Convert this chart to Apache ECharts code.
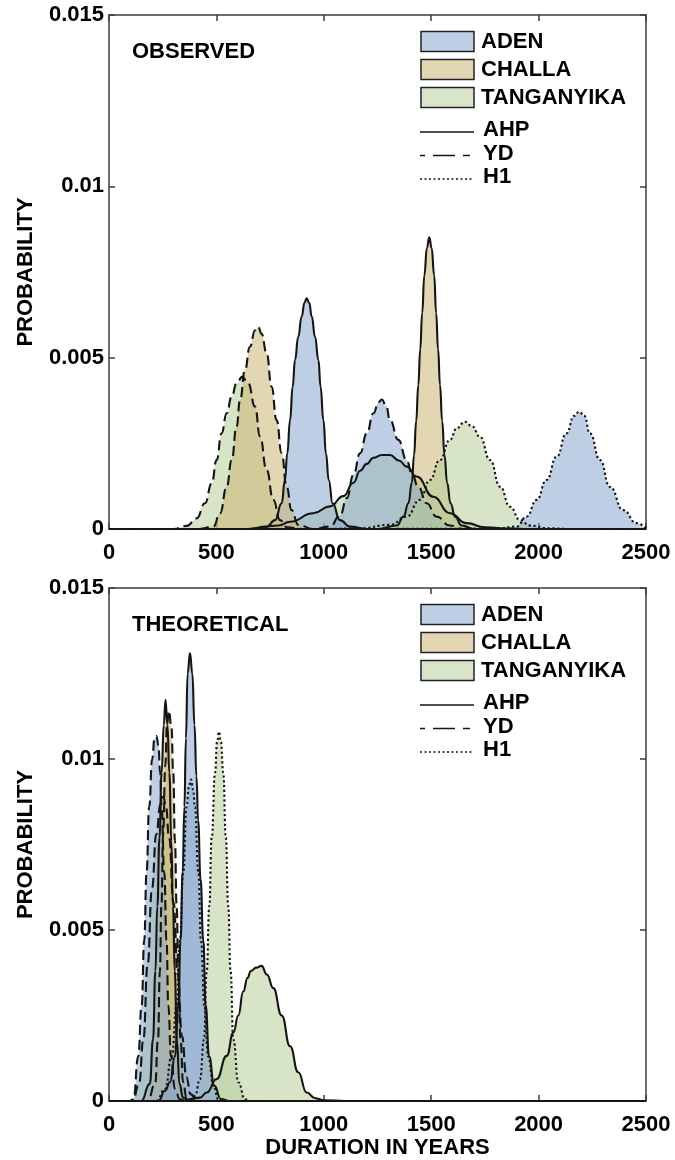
<!DOCTYPE html>
<html lang="en">
<head>
<meta charset="UTF-8">
<title>Duration probability</title>
<style>html,body{margin:0;padding:0;background:#fff}</style>
</head>
<body>
<div id="main" style="width:675px;height:1160px;"></div>
<script src="https://cdn.jsdelivr.net/npm/echarts@6/dist/echarts.min.js"></script>
<script>
var xTicks = [0, 500, 1000, 1500, 2000, 2500];
var yTicks = [0, 0.005, 0.01, 0.015];

var lakes = ['ADEN', 'CHALLA', 'TANGANYIKA'];
var events = ['AHP', 'YD', 'H1'];
var panelTitles = ['OBSERVED', 'THEORETICAL'];

// observed: [duration in years, probability]
var obsTangAHP = [[0,0],[650,0],[789,0.0001],[843,0.00021],[951,0.00046],[1029,0.00066],[1091,0.00096],[1138,0.00135],[1169,0.0017],[1200,0.0019],[1231,0.00208],[1270,0.00216],[1308,0.00216],[1350,0.002],[1386,0.00182],[1432,0.00153],[1510,0.00094],[1587,0.00046],[1665,0.00017],[1750,0.00005],[1869,0.00001],[1950,0],[2500,0]];
var obsChallaAHP = [[0,0],[1250,0],[1340,0.0001],[1371,0.00036],[1394,0.00075],[1410,0.00135],[1420,0.00215],[1430,0.00315],[1440,0.0042],[1449,0.00525],[1458,0.0063],[1468,0.0074],[1480,0.0082],[1491,0.00851],[1502,0.0082],[1514,0.0074],[1523,0.0063],[1532,0.00525],[1541,0.0042],[1551,0.00315],[1562,0.00215],[1574,0.00135],[1590,0.00075],[1611,0.00036],[1642,0.0001],[1700,0],[2500,0]];
var obsAdenAHP = [[0,0],[650,0],[734,0.00007],[773,0.00026],[804,0.00075],[819,0.00143],[830,0.00221],[843,0.00318],[855,0.00415],[866,0.00493],[881,0.00561],[897,0.0062],[910,0.0066],[920,0.00673],[932,0.0066],[944,0.0062],[959,0.00561],[975,0.00493],[985,0.00415],[998,0.00318],[1010,0.00221],[1023,0.00143],[1041,0.00075],[1075,0.00026],[1122,0.00007],[1200,0],[2500,0]];
var obsTangYD = [[0,0],[300,0],[362,0.00009],[408,0.00031],[447,0.00075],[478,0.00133],[501,0.00201],[524,0.00279],[548,0.00338],[571,0.00386],[594,0.00425],[620,0.00444],[648,0.00425],[680,0.00357],[703,0.0027],[734,0.00172],[765,0.00085],[796,0.00026],[827,0.00005],[900,0],[2500,0]];
var obsChallaYD = [[0,0],[420,0],[486,0.00007],[517,0.00046],[548,0.00123],[571,0.00201],[594,0.00299],[610,0.00376],[633,0.00464],[656,0.00532],[680,0.0058],[695,0.0059],[710,0.0057],[734,0.00513],[757,0.00415],[780,0.00318],[804,0.00221],[827,0.00123],[850,0.00055],[881,0.00012],[950,0],[2500,0]];
var obsAdenYD = [[0,0],[950,0],[1029,0.00007],[1076,0.0004],[1107,0.0009],[1138,0.00158],[1169,0.00221],[1200,0.00279],[1231,0.00338],[1255,0.0037],[1270,0.00378],[1290,0.0036],[1308,0.00318],[1347,0.0026],[1386,0.00201],[1409,0.00163],[1440,0.00123],[1479,0.00075],[1525,0.00036],[1587,0.0001],[1650,0],[2500,0]];
var obsTangH1 = [[0,0],[1000,0],[1169,0.00002],[1308,0.00012],[1386,0.00036],[1447,0.00085],[1494,0.00143],[1540,0.00201],[1587,0.0026],[1620,0.00295],[1657,0.00313],[1690,0.003],[1727,0.00269],[1774,0.00201],[1821,0.00123],[1867,0.00065],[1914,0.00026],[1960,0.0001],[2050,0.00002],[2150,0],[2500,0]];
var obsAdenH1 = [[0,0],[1100,0],[1800,0.00001],[1898,0.00007],[1944,0.00036],[1991,0.00085],[2037,0.00143],[2084,0.00211],[2130,0.00279],[2165,0.0033],[2189,0.00342],[2213,0.0033],[2239,0.00279],[2286,0.00201],[2332,0.00123],[2394,0.00055],[2456,0.00017],[2500,0.00002]];

// theoretical
var thTangAHP = [[0,0],[330,0],[424,0.0001],[455,0.00025],[501,0.00064],[548,0.00132],[579,0.002],[602,0.0025],[625,0.0032],[645,0.0036],[660,0.0038],[685,0.0039],[710,0.00395],[735,0.0037],[765,0.0033],[804,0.0025],[843,0.0016],[881,0.00084],[920,0.00025],[960,0.00008],[1000,0.00002],[1100,0],[2500,0]];
var thChallaAHP = [[0,0],[150,0],[190,0.0005],[205,0.0018],[216,0.0038],[225,0.0057],[235,0.0077],[245,0.0096],[255,0.011],[263,0.01173],[272,0.011],[281,0.0096],[290,0.0076],[298,0.0057],[306,0.0038],[316,0.0018],[328,0.0005],[345,0.0001],[380,0],[2500,0]];
var thAdenAHP = [[0,0],[230,0],[261,0.0003],[284,0.00055],[307,0.0013],[323,0.0028],[333,0.0047],[343,0.0067],[351,0.0086],[358,0.0106],[366,0.0125],[377,0.0131],[388,0.0125],[398,0.011],[407,0.0095],[415,0.0082],[426,0.0065],[439,0.0047],[450,0.0028],[466,0.0013],[490,0.00045],[521,0.00006],[560,0],[2500,0]];
var thTangYD = [[0,0],[110,0],[140,0.0005],[160,0.0018],[180,0.004],[200,0.0062],[220,0.0078],[240,0.0087],[253,0.0089],[265,0.0086],[280,0.0077],[300,0.0058],[320,0.0037],[340,0.0019],[360,0.0007],[380,0.0002],[410,0],[2500,0]];
var thChallaYD = [[0,0],[180,0],[215,0.0005],[228,0.0018],[237,0.0038],[244,0.0057],[252,0.0078],[262,0.0098],[270,0.011],[279,0.01141],[291,0.0109],[299,0.0096],[307,0.0076],[315,0.0057],[323,0.0038],[333,0.0018],[345,0.00055],[361,0.0001],[390,0],[2500,0]];
var thAdenYD = [[0,0],[95,0],[114,0.00005],[136,0.0013],[152,0.0028],[164,0.0047],[175,0.0067],[187,0.0086],[201,0.01],[212,0.0106],[221,0.01067],[230,0.0104],[238,0.0096],[245,0.0086],[257,0.0067],[268,0.0047],[276,0.0028],[289,0.0013],[307,0.00035],[330,0.00005],[360,0],[2500,0]];
var thTangH1 = [[0,0],[370,0],[400,0.00015],[424,0.00064],[442,0.0018],[455,0.0038],[467,0.0057],[478,0.0077],[494,0.0096],[503,0.0105],[512,0.0108],[521,0.0105],[532,0.0096],[544,0.0077],[555,0.0057],[566,0.0038],[579,0.0018],[602,0.00055],[633,0.00005],[660,0],[2500,0]];
var thAdenH1 = [[0,0],[220,0],[261,0.00035],[292,0.0013],[315,0.0028],[330,0.0047],[346,0.0067],[361,0.0086],[372,0.0092],[382,0.0094],[392,0.0091],[400,0.0086],[416,0.0067],[428,0.0047],[444,0.0028],[462,0.0013],[486,0.00045],[509,0.00005],[540,0],[2500,0]];

var panels = [
    [['TANGANYIKA','AHP',obsTangAHP],['CHALLA','AHP',obsChallaAHP],['ADEN','AHP',obsAdenAHP],
     ['TANGANYIKA','YD',obsTangYD],['CHALLA','YD',obsChallaYD],['ADEN','YD',obsAdenYD],
     ['TANGANYIKA','H1',obsTangH1],['ADEN','H1',obsAdenH1]],
    [['TANGANYIKA','AHP',thTangAHP],['CHALLA','AHP',thChallaAHP],['ADEN','AHP',thAdenAHP],
     ['TANGANYIKA','YD',thTangYD],['CHALLA','YD',thChallaYD],['ADEN','YD',thAdenYD],
     ['TANGANYIKA','H1',thTangH1],['ADEN','H1',thAdenH1]]
];

var fillColor = {ADEN: 'rgba(137,168,208,0.55)', CHALLA: 'rgba(204,180,115,0.55)', TANGANYIKA: 'rgba(182,206,155,0.55)'};
var swatchColor = {ADEN: '#bfd0e6', CHALLA: '#e3d6b2', TANGANYIKA: '#d8e5c9'};
var dash = {AHP: 'solid', YD: [10, 5], H1: [2.2, 2.6]};

var FONT = 'Liberation Sans, Arial, Helvetica, sans-serif';
var gridTops = [15, 588];
var frame = {color: '#3c3c3c', width: 1.5};

var myChart = echarts.init(document.getElementById('main'));

var grids = [], xAxes = [], yAxes = [], series = [], graphics = [];

gridTops.forEach(function (top, p) {
    grids.push({left: 109, top: top, width: 537, height: 514});

    var tickLabel = {fontSize: 22, fontWeight: 'bold', color: '#000', fontFamily: FONT};
    ['bottom', 'top'].forEach(function (pos) {
        var ax = {
            gridIndex: p, type: 'value', position: pos,
            min: xTicks[0], max: xTicks[xTicks.length - 1], interval: xTicks[1] - xTicks[0],
            axisLine: {show: true, onZero: false, lineStyle: frame},
            axisTick: {show: true, inside: true, length: 6, lineStyle: frame},
            axisLabel: pos === 'bottom'
                ? Object.assign({margin: 13, formatter: function (v) { return String(v); }}, tickLabel)
                : {show: false},
            splitLine: {show: false}
        };
        if (pos === 'bottom' && p === 1) {
            ax.name = 'DURATION IN YEARS';
            ax.nameLocation = 'middle';
            ax.nameGap = 36;
            ax.nameTextStyle = tickLabel;
        }
        xAxes.push(ax);
    });
    ['left', 'right'].forEach(function (pos) {
        yAxes.push({
            gridIndex: p, type: 'value', position: pos,
            min: yTicks[0], max: yTicks[yTicks.length - 1], interval: yTicks[1] - yTicks[0],
            axisLine: {show: true, onZero: false, lineStyle: frame},
            axisTick: {show: true, inside: true, length: 6, lineStyle: frame},
            axisLabel: pos === 'left' ? Object.assign({margin: 5}, tickLabel) : {show: false},
            splitLine: {show: false},
            name: pos === 'left' ? 'PROBABILITY' : '',
            nameLocation: 'middle',
            nameGap: 72,
            nameTextStyle: tickLabel
        });
    });

    panels[p].forEach(function (c) {
        series.push({
            type: 'line',
            name: c[0] + ' ' + c[1],
            xAxisIndex: p * 2,
            yAxisIndex: p * 2,
            data: c[2],
            smooth: 0.5,
            smoothMonotone: 'x',
            symbol: 'none',
            lineStyle: {color: '#151515', width: 2.1, type: dash[c[1]]},
            areaStyle: {color: fillColor[c[0]], opacity: 1},
            silent: true
        });
    });

    // panel label
    graphics.push({type: 'text', left: 132, top: top + 26, style: {
        text: panelTitles[p], font: 'bold 22px ' + FONT, fill: '#000'}});

    // legend: lakes
    lakes.forEach(function (lake, i) {
        var cy = top + 26.5 + i * 28;
        graphics.push({type: 'rect', shape: {x: 421, y: cy - 10, width: 53, height: 20},
            style: {fill: swatchColor[lake], stroke: '#222', lineWidth: 1.5}});
        graphics.push({type: 'text', x: 481, y: cy, style: {
            text: lake, font: 'bold 22px ' + FONT, fill: '#000', textVerticalAlign: 'middle'}});
    });
    // legend: events
    events.forEach(function (ev, i) {
        var cy = top + 117 + i * 23.5;
        graphics.push({type: 'line', shape: {x1: 420, y1: cy, x2: 474, y2: cy},
            style: {stroke: '#151515', lineWidth: 1.6,
                lineDash: ev === 'AHP' ? null : (ev === 'YD' ? [7, 8, 22, 8] : [2, 2.5]),
                lineDashOffset: ev === 'YD' ? 2 : 0}});
        graphics.push({type: 'text', x: 483, y: cy - 2, style: {
            text: ev, font: 'bold 22px ' + FONT, fill: '#000', textVerticalAlign: 'middle'}});
    });
});

var option = {
    backgroundColor: '#fff',
    animation: false,
    grid: grids,
    xAxis: xAxes,
    yAxis: yAxes,
    series: series,
    graphic: graphics
};

myChart.setOption(option);
</script>
</body>
</html>
